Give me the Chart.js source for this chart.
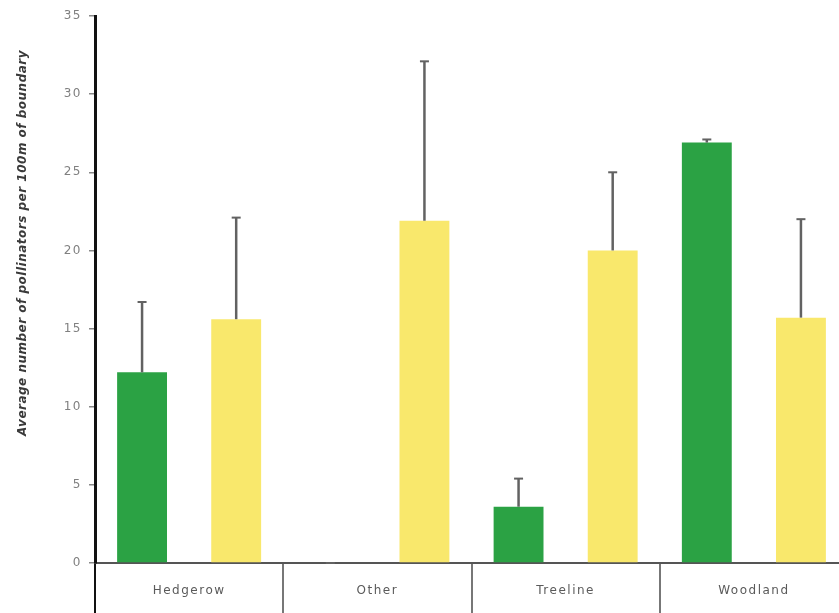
<!DOCTYPE html>
<html>
<head>
<meta charset="utf-8">
<script src="https://cdn.jsdelivr.net/npm/chart.js@4"></script>
<style>
  html, body { margin: 0; padding: 0; background: #fff; overflow: hidden; }
  #wrap { width: 848px; height: 613px; position: relative; }
</style>
</head>
<body>
<div id="wrap"><canvas id="c"></canvas></div>
<script>
// Boundary types along the x axis
const categories = ['Hedgerow', 'Other', 'Treeline', 'Woodland'];
// Mean pollinator counts per 100 m, two survey groups
const greenValues = [12.2, 0, 3.6, 26.9];
const yellowValues = [15.6, 21.9, 20.0, 15.7];
// Upper error bar lengths
const greenErrors = [4.5, 0, 1.8, 0.2];
const yellowErrors = [6.5, 10.2, 5.0, 6.3];
// Y axis range and step
const yMin = 0, yMax = 35, yStep = 5;
const yTitle = 'Average number of pollinators per 100m of boundary';

// Wider letter spacing for the axis labels
const textSpacing = {
  id: 'textSpacing',
  beforeDraw(chart) { chart.ctx.letterSpacing = '1.5px'; },
  afterDraw(chart) { chart.ctx.letterSpacing = '0px'; }
};

const errorBars = {
  id: 'errorBars',
  afterDatasetsDraw(chart) {
    const ctx = chart.ctx;
    const yScale = chart.scales.y;
    chart.data.datasets.forEach((ds, di) => {
      const meta = chart.getDatasetMeta(di);
      meta.data.forEach((el, i) => {
        const v = ds.data[i];
        const e = ds.errors[i];
        const yTop = yScale.getPixelForValue(v + e);
        const yBase = yScale.getPixelForValue(v);
        ctx.save();
        ctx.strokeStyle = '#626262';
        ctx.lineWidth = 2.5;
        ctx.beginPath();
        ctx.moveTo(el.x, yBase);
        ctx.lineTo(el.x, yTop);
        ctx.stroke();
        ctx.lineWidth = 2;
        ctx.beginPath();
        ctx.moveTo(el.x - 4.5, yTop);
        ctx.lineTo(el.x + 4.5, yTop);
        ctx.stroke();
        ctx.restore();
      });
    });
  }
};

const sideTitle = {
  id: 'sideTitle',
  afterDraw(chart) {
    const ctx = chart.ctx;
    ctx.save();
    ctx.translate(23, 243);
    ctx.rotate(-Math.PI / 2);
    ctx.font = 'italic bold 12px "DejaVu Sans", sans-serif';
    ctx.letterSpacing = '0.5px';
    ctx.fillStyle = '#3a3a3a';
    ctx.textAlign = 'center';
    ctx.textBaseline = 'middle';
    ctx.fillText(yTitle, 0, 0);
    ctx.restore();
  }
};

new Chart(document.getElementById('c'), {
  type: 'bar',
  data: {
    labels: categories,
    datasets: [
      { data: greenValues, errors: greenErrors, backgroundColor: '#2ba244' },
      { data: yellowValues, errors: yellowErrors, backgroundColor: '#f9e86c' }
    ]
  },
  options: {
    responsive: true,
    maintainAspectRatio: false,
    animation: false,
    layout: { padding: { top: 16, left: 0, right: 0, bottom: 0 } },
    plugins: { legend: { display: false }, tooltip: { enabled: false } },
    datasets: { bar: { categoryPercentage: 1.0, barPercentage: 0.53 } },
    scales: {
      x: {
        afterFit(scale) { scale.height = 50; },
        grid: {
          offset: true,
          drawOnChartArea: false,
          drawTicks: true,
          tickLength: 50,
          lineWidth: 2,
          color: (c) => (c.index === 0 ? '#111' : '#777')
        },
        border: { color: '#555', width: 2 },
        ticks: {
          padding: -29,
          color: '#5a5a5a',
          font: { family: '"DejaVu Sans", sans-serif', size: 12 }
        }
      },
      y: {
        min: yMin,
        max: yMax,
        afterFit(scale) { scale.width = 95; },
        grid: { drawOnChartArea: false, tickLength: 6, color: '#888', lineWidth: 1.5 },
        border: { color: '#111', width: 3 },
        ticks: {
          stepSize: yStep,
          padding: 7,
          color: '#808080',
          font: { family: '"DejaVu Sans", sans-serif', size: 12 }
        }
      }
    }
  },
  plugins: [textSpacing, errorBars, sideTitle]
});
</script>
</body>
</html>
